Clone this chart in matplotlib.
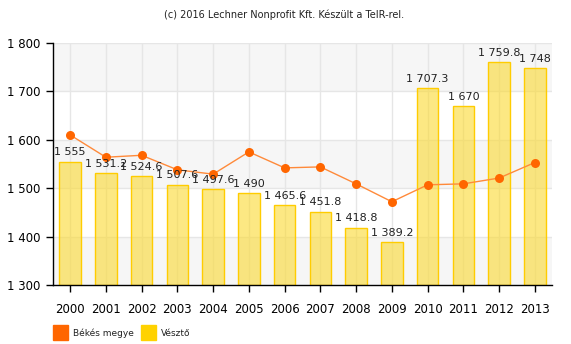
import matplotlib
matplotlib.use("Agg")
import matplotlib.pyplot as plt
from matplotlib.patches import Rectangle

years = ["2000", "2001", "2002", "2003", "2004", "2005", "2006",
         "2007", "2008", "2009", "2010", "2011", "2012", "2013"]
veszto = [1555, 1531.2, 1524.6, 1507.6, 1497.6, 1490, 1465.6,
          1451.8, 1418.8, 1389.2, 1707.3, 1670, 1759.8, 1748]
bekes = [1610, 1564, 1568, 1538, 1529, 1575, 1542,
         1544, 1509, 1472, 1507, 1509, 1521, 1553]
yticks = [1300, 1400, 1500, 1600, 1700, 1800]

def fmt(v):
    s = f"{v:,.1f}".rstrip("0").rstrip(".")
    return s.replace(",", " ")

plt.rcParams['font.family'] = ['DejaVu Sans']
fig = plt.figure(figsize=(5.71, 3.44), dpi=100)
ax = fig.add_axes([53/571, 1-285/344, (552-53)/571, (285-43)/344])

x = list(range(len(years)))
ax.set_xlim(-0.48, len(years) - 0.52)
ax.set_ylim(1300, 1800)

# alternating bands
for i in range(len(yticks) - 1):
    if i % 2 == 0:
        ax.axhspan(yticks[i], yticks[i+1], color="#f6f6f6", zorder=0, lw=0)
for y in yticks[1:]:
    ax.axhline(y, color="#e6e6e6", lw=1, zorder=1)
for xi in x:
    ax.axvline(xi, color="#e6e6e6", lw=1, zorder=1)

ax.bar(x, [v - 1300 for v in veszto], bottom=1300, width=0.6,
       color="#fbd930", alpha=0.6, linewidth=0, zorder=2)
ax.bar(x, [v - 1300 for v in veszto], bottom=1300, width=0.6,
       fill=False, edgecolor="#ffcc00", linewidth=1, zorder=2)

ax.plot(x, bekes, color="#ff8a3a", lw=1, zorder=3)
ax.plot(x, bekes, "o", color="#ff6600", ms=6.5, zorder=4, markeredgewidth=0)

for xi, v in zip(x, veszto):
    ax.annotate(fmt(v), (xi, v), xytext=(0, 3), textcoords="offset points",
                ha="center", va="bottom", fontsize=8, color="#222222", zorder=5)

ax.set_yticks(yticks)
ax.set_yticklabels([fmt(t) for t in yticks], fontsize=8.5)
ax.set_xticks(x)
ax.set_xticklabels(years, fontsize=8.5)
ax.tick_params(axis="y", length=5, width=1, pad=4, colors="black")
ax.tick_params(axis="x", length=5, width=1, pad=8, colors="black")
for s in ["top", "right"]:
    ax.spines[s].set_visible(False)
for s in ["left", "bottom"]:
    ax.spines[s].set_linewidth(1)
    ax.spines[s].set_color("black")
    ax.spines[s].set_zorder(6)

fig.text(284/571, 1-15/344, "(c) 2016 Lechner Nonprofit Kft. Készült a TeIR-rel.",
         ha="center", va="center", fontsize=7, color="#222222")

# legend
fig.patches.append(Rectangle((53/571, 1-340/344), 15/571, 15/344,
                             transform=fig.transFigure, color="#ff6600"))
fig.text(73/571, 1-333/344, "Békés megye", fontsize=6.5, va="center", color="#222222")
fig.patches.append(Rectangle((141/571, 1-340/344), 15/571, 15/344,
                             transform=fig.transFigure, color="#ffd200"))
fig.text(161/571, 1-333/344, "Vésztő", fontsize=6.5, va="center", color="#222222")

fig.savefig("out.png", dpi=100)
